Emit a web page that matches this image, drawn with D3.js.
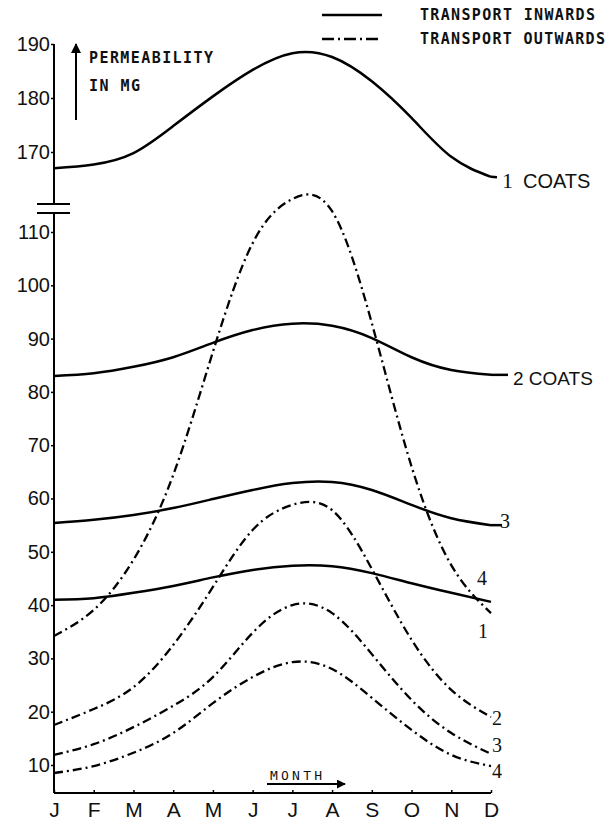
<!DOCTYPE html>
<html><head><meta charset="utf-8">
<script src="https://cdn.jsdelivr.net/npm/d3@7"></script>
<style>
html,body{margin:0;padding:0;background:#fff;}
svg{display:block;}
</style></head>
<body>
<script>
const months = ["J","F","M","A","M","J","J","A","S","O","N","D"];
const upperTicks = [170, 180, 190];
const lowerTicks = [10, 20, 30, 40, 50, 60, 70, 80, 90, 100, 110];
const inward1 = [167.0, 167.7, 169.8, 174.8, 180.3, 185.2, 188.3, 187.6, 183.1, 176.3, 169.1, 165.4];
const inward2 = [83.0, 83.5, 84.7, 86.5, 89.2, 91.6, 92.8, 92.4, 90.1, 86.5, 84.1, 83.2];
const inward3 = [55.4, 56.0, 56.9, 58.2, 59.9, 61.6, 62.9, 63.1, 61.6, 58.8, 56.3, 55.0];
const inward4 = [41.0, 41.3, 42.3, 43.6, 45.2, 46.6, 47.4, 47.3, 46.0, 44.1, 42.3, 40.6];
const outward1 = [34.2, 39.1, 48.5, 64.4, 87.5, 107.9, 116.2, 113.9, 92.9, 66.0, 47.5, 38.5];
const outward2 = [17.5, 20.5, 24.6, 32.5, 43.4, 54.1, 58.8, 57.8, 46.8, 33.5, 24.1, 19.0];
const outward3 = [11.9, 13.9, 17.1, 21.1, 26.5, 34.8, 40.0, 38.5, 30.8, 22.2, 16.0, 12.1];
const outward4 = [8.5, 9.8, 12.3, 16.0, 21.6, 26.5, 29.3, 28.0, 22.6, 16.6, 11.9, 9.8];
const legendLabels = ["TRANSPORT INWARDS", "TRANSPORT OUTWARDS"];

const W = 607, H = 822;
const svg = d3.select("body").append("svg").attr("width", W).attr("height", H);

const x = d3.scaleLinear().domain([0, 11]).range([54, 491]);
const yU = d3.scaleLinear().domain([170, 190]).range([152, 44]);
const yL = d3.scaleLinear().domain([10, 110]).range([765, 232]);

const DASH = "9,4,2,4";
const tickFont = "'Liberation Sans', Arial, sans-serif";
const monoFont = "'DejaVu Sans Mono', monospace";

// axes
const gU = svg.append("g").attr("transform", "translate(54,0)")
  .call(d3.axisLeft(yU).tickValues(upperTicks).tickSize(3).tickPadding(1));
const gL = svg.append("g").attr("transform", "translate(54,0)")
  .call(d3.axisLeft(yL).tickValues(lowerTicks).tickSize(3).tickPadding(1));
[gU, gL].forEach(g => {
  g.select(".domain").remove();
  g.selectAll("line").attr("stroke", "#000").attr("stroke-width", 1.5);
  g.selectAll("text").attr("font-family", tickFont).attr("font-size", 20).attr("fill", "#111");
});
// vertical axis lines (broken)
svg.append("line").attr("x1", 54).attr("x2", 54).attr("y1", yU(190)).attr("y2", 204)
  .attr("stroke", "#000").attr("stroke-width", 2);
svg.append("line").attr("x1", 54).attr("x2", 54).attr("y1", 213).attr("y2", 793)
  .attr("stroke", "#000").attr("stroke-width", 2);
[204, 213].forEach(yy => svg.append("line").attr("x1", 37).attr("x2", 70).attr("y1", yy).attr("y2", yy)
  .attr("stroke", "#000").attr("stroke-width", 2));

const gX = svg.append("g").attr("transform", "translate(0,793)")
  .call(d3.axisBottom(x).tickValues(d3.range(12)).tickFormat(i => months[i]).tickSize(-3).tickPadding(9));
gX.select(".domain").attr("stroke", "#000").attr("stroke-width", 2).attr("d", "M54,0H491");
gX.selectAll("line").attr("stroke", "#000").attr("stroke-width", 1.5);
gX.selectAll("text").attr("font-family", tickFont).attr("font-size", 21).attr("fill", "#111");

// curves
const curve = d3.curveNatural;
const lineU = d3.line().x((d, i) => x(i)).y(d => yU(d)).curve(curve);
const lineL = d3.line().x((d, i) => x(i)).y(d => yL(d)).curve(curve);

svg.append("path").attr("d", lineU(inward1)).attr("fill", "none").attr("stroke", "#000").attr("stroke-width", 2.5);
[inward2, inward3, inward4].forEach(s =>
  svg.append("path").attr("d", lineL(s)).attr("fill", "none").attr("stroke", "#000").attr("stroke-width", 2.5));
[outward1, outward2, outward3, outward4].forEach(s =>
  svg.append("path").attr("d", lineL(s)).attr("fill", "none").attr("stroke", "#000")
    .attr("stroke-width", 2.3).attr("stroke-dasharray", DASH));

// leader lines to curve labels
function leader(x1, y1, x2, y2) {
  svg.append("line").attr("x1", x1).attr("y1", y1).attr("x2", x2).attr("y2", y2)
    .attr("stroke", "#000").attr("stroke-width", 2.5);
}
leader(x(11), yU(inward1[11]), 497, yU(inward1[11]) + 0.5);
leader(x(11), yL(inward2[11]), 508, yL(inward2[11]));
leader(x(11), yL(inward3[11]), 502, yL(inward3[11]));

function label(t, lx, ly, size, fam) {
  svg.append("text").attr("x", lx).attr("y", ly).attr("font-family", fam).attr("font-size", size)
    .attr("fill", "#111").text(t);
}
const serif = "'Liberation Serif', 'Times New Roman', serif";
label("1", 502, 188, 22, serif);
label("COATS", 523, 188, 20, tickFont);
label("2 COATS", 513, 385, 19, tickFont);
label("3", 500, 528, 20, serif);
label("4", 477, 585, 20, serif);
label("1", 478, 638, 20, serif);
label("2", 492, 725, 20, serif);
label("3", 492, 752, 20, serif);
label("4", 492, 778, 20, serif);

// legend
const legY = [15, 39];
legY.forEach((ly, i) => {
  svg.append("line").attr("x1", 322).attr("x2", 382).attr("y1", ly).attr("y2", ly)
    .attr("stroke", "#000").attr("stroke-width", 2.5)
    .attr("stroke-dasharray", i === 1 ? "12,4,2,4" : null);
  svg.append("text").attr("x", 420).attr("y", ly + 5).attr("font-family", monoFont)
    .attr("font-size", 15).attr("font-weight", "bold").attr("fill", "#111")
    .attr("textLength", i === 0 ? 175 : 185).attr("lengthAdjust", "spacing")
    .text(legendLabels[i]);
});

// permeability label + arrow
svg.append("defs").append("marker").attr("id", "ah").attr("viewBox", "0 0 10 10")
  .attr("refX", 9).attr("refY", 5).attr("markerWidth", 5).attr("markerHeight", 5)
  .attr("orient", "auto").append("path").attr("d", "M0,0L10,5L0,10z").attr("fill", "#000");
svg.append("line").attr("x1", 76).attr("x2", 76).attr("y1", 120).attr("y2", 44)
  .attr("stroke", "#000").attr("stroke-width", 2).attr("marker-end", "url(#ah)");
svg.append("text").attr("x", 89).attr("y", 63).attr("font-family", monoFont).attr("font-size", 15)
  .attr("font-weight", "bold").attr("fill", "#111").attr("textLength", 124).attr("lengthAdjust", "spacing").text("PERMEABILITY");
svg.append("text").attr("x", 89).attr("y", 91).attr("font-family", monoFont).attr("font-size", 15)
  .attr("font-weight", "bold").attr("fill", "#111").attr("textLength", 51).attr("lengthAdjust", "spacing").text("IN MG");

// MONTH label + arrow
svg.append("text").attr("x", 270).attr("y", 780).attr("font-family", monoFont).attr("font-size", 13)
  .attr("fill", "#111").attr("textLength", 52).attr("lengthAdjust", "spacing").text("MONTH");
svg.append("line").attr("x1", 267).attr("x2", 345).attr("y1", 784).attr("y2", 784)
  .attr("stroke", "#000").attr("stroke-width", 1.8).attr("marker-end", "url(#ah)");
</script>
</body></html>
